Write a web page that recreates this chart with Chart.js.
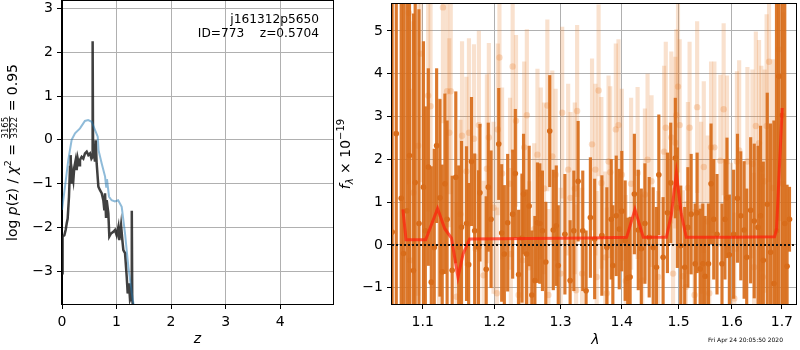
<!DOCTYPE html>
<html>
<head>
<meta charset="utf-8">
<script src="https://cdn.jsdelivr.net/npm/chart.js@4.4.0/dist/chart.umd.min.js"></script>
<style>
  html, body { margin: 0; padding: 0; background: #fff; }
  #wrap { position: relative; width: 800px; height: 350px; }
  canvas { position: absolute; top: 0; }
</style>
</head>
<body>
<div id="wrap">
  <canvas id="pzChart" width="340" height="350" style="left:0"></canvas>
  <canvas id="specChart" width="470" height="350" style="left:330px"></canvas>
</div>
<script>
// ---- left panel: p(z) ----
const pzZ = [0.000, 0.004, 0.018, 0.043, 0.067, 0.086, 0.104, 0.128, 0.147, 0.159, 0.171, 0.190, 0.208, 0.226, 0.251,
  0.269, 0.288, 0.312, 0.330, 0.361, 0.391, 0.422, 0.453, 0.483, 0.514, 0.540, 0.555, 0.562, 0.570, 0.590, 0.605,
  0.618, 0.636, 0.667, 0.697, 0.728, 0.758, 0.777, 0.789, 0.807, 0.820, 0.850, 0.868, 0.899, 0.942, 0.972, 1.003,
  1.034, 1.052, 1.083, 1.107, 1.125, 1.156, 1.187, 1.205, 1.229, 1.248, 1.270, 1.280, 1.288, 1.320];
const pzLog = [-3.05, -2.45, -2.21, -2.18, -2.06, -1.91, -1.80, -1.30, -0.62, -0.35, -1.00, -0.77, -0.92, -0.62, -0.46,
  -0.69, -0.43, -0.58, -0.46, -0.39, -0.43, -0.31, -0.27, -0.35, -0.31, -0.43, -0.40, 2.25, -0.38, -0.35, -0.50,
  -0.01, -0.54, -1.07, -1.15, -1.22, -1.38, -1.61, -1.22, -1.76, -1.38, -1.68, -2.21, -2.14, -2.10, -2.06, -2.18,
  -1.99, -2.29, -1.95, -2.29, -2.52, -2.59, -3.13, -3.51, -3.28, -3.66, -3.60, -1.62, -3.66, -3.95];
const chiZ = [0.000, 0.055, 0.116, 0.177, 0.239, 0.330, 0.420, 0.480, 0.545, 0.606, 0.655, 0.670, 0.728, 0.790,
  0.810, 0.825, 0.862, 0.910, 0.970, 1.030, 1.095, 1.156, 1.217, 1.280, 1.330];
const chiLog = [-1.60, -1.07, -0.46, 0.00, 0.15, 0.26, 0.43, 0.45, 0.41, 0.22, 0.07, -0.24, -0.54, -0.84,
  -1.07, -0.90, -1.30, -1.38, -1.41, -1.38, -1.53, -2.14, -2.90, -3.50, -3.90];
const zTicks = [0, 1, 2, 3, 4];
const pzTicks = [-3, -2, -1, 0, 1, 2, 3];

// ---- right panel: spectrum ----
const darkLam = [1.0600, 1.0653, 1.0717, 1.0747, 1.0790, 1.0825, 1.0877, 1.0900, 1.0950, 1.1010, 1.1035, 1.1075,
  1.1115, 1.1155, 1.1187, 1.1232, 1.1263, 1.1300, 1.1330, 1.1400, 1.1450, 1.1490, 1.1530, 1.1600, 1.1630, 1.1670,
  1.1715, 1.1770, 1.1790, 1.1880, 1.1910, 1.1950, 1.2062, 1.2105, 1.2144, 1.2193, 1.2267, 1.2307, 1.2356, 1.2406,
  1.2430, 1.2475, 1.2515, 1.2556, 1.2602, 1.2641, 1.2678, 1.2718, 1.2770, 1.2831, 1.2886, 1.2933, 1.2964, 1.3069,
  1.3152, 1.3211, 1.3280, 1.3355, 1.3409, 1.3479, 1.3549, 1.3668, 1.3751, 1.3824, 1.3851, 1.3908, 1.3959, 1.4002,
  1.4059, 1.4103, 1.4144, 1.4217, 1.4285, 1.4337, 1.4400, 1.4475, 1.4545, 1.4603, 1.4645, 1.4721, 1.4798, 1.4858,
  1.4941, 1.4977, 1.5039, 1.5112, 1.5170, 1.5230, 1.5304, 1.5341, 1.5397, 1.5447, 1.5490, 1.5553, 1.5602, 1.5653,
  1.5715, 1.5810, 1.5867, 1.5906, 1.5952, 1.6035, 1.6110, 1.6175, 1.6240, 1.6291, 1.6369, 1.6440, 1.6516, 1.6567,
  1.6622, 1.6702, 1.6769, 1.6837, 1.6890, 1.6939, 1.7007, 1.7060, 1.7108, 1.7158];
const darkFlux = [0.3, 2.6, 1.09, -0.2, 0.8, 2.09, -0.6, 1.46, 0.5, 1.35, 0.33, 1.82,
  -0.87, -0.06, 2.32, 1.10, -0.63, 1.43, 0.60, -0.59, 1.58, -0.05, 0.42, 0.50, -0.46, 1.95,
  0.33, -0.06, 1.22, -0.57, 1.35, 0.60, 2.36, 0.28, -0.21, 0.52, 0.72, 1.67, -0.69, 0.16,
  1.19, -0.21, 0.91, -1.17, -0.83, 0.52, 0.50, 0.33, -0.40, 2.66, 0.35, 0.45, -0.48, 0.25,
  -0.83, 0.33, 1.49, 0.33, -1.07, 0.64, 0.14, 0.22, -0.06, 0.60, -0.48, 0.68, 0.37, 0.79,
  0.10, -0.77, -0.75, 1.19, 0.35, -0.09, 0.50, 0.18, -0.06, -0.52, 1.64, -0.29, 0.75, 1.45,
  2.03, 0.87, -0.02, -0.52, 0.41, 0.72, -0.44, 0.75, -0.56, -0.44, -0.73, -0.44, 1.43, 0.60,
  0.25, -0.44, 0.60, 1.10, -0.23, 0.25, 1.09, 0.68, 0.35, -0.29, 0.81, 0.56, 0.41, 0.68,
  -0.36, 0.95, -0.17, -0.90, 0.33, 3.94, 3.03, 0.5, -0.5, 0.60];
const darkErr = [6, 6, 6, 6, 6, 6, 6, 6, 5, 3.4, 2.9, 2.3,
  2.7, 2.3, 1.8, 2.3, 2.5, 2.1, 2.3, 2.2, 2.0, 1.9, 2.0, 1.8, 1.9, 1.5,
  1.8, 1.8, 1.6, 1.7, 1.5, 1.6, 1.3, 1.6, 1.6, 1.6, 1.5, 1.5, 1.5, 1.5,
  1.4, 1.5, 1.4, 1.5, 1.5, 1.4, 1.4, 1.4, 1.4, 1.3, 1.4, 1.4, 1.4, 1.4,
  1.4, 1.4, 1.4, 1.4, 1.4, 1.4, 1.4, 1.4, 1.4, 1.4, 1.4, 1.4, 1.4, 1.4,
  1.4, 1.4, 1.4, 1.4, 1.4, 1.4, 1.4, 1.4, 1.4, 1.4, 1.4, 1.4, 1.4, 1.4,
  1.4, 1.4, 1.4, 1.4, 1.4, 1.4, 1.4, 1.4, 1.4, 1.4, 1.4, 1.4, 1.4, 1.4,
  1.4, 1.4, 1.4, 1.4, 1.4, 1.5, 1.5, 1.5, 1.6, 1.6, 1.7, 1.8, 1.9, 2.1,
  2.3, 2.6, 3.0, 3.8, 6, 6, 6, 6, 1.9, 0.75];

const lightLam = [1.0816, 1.0834, 1.0877, 1.0940, 1.0974, 1.1073, 1.1105, 1.1220, 1.1273, 1.1330, 1.1360, 1.1380,
  1.1460, 1.1515, 1.1537, 1.1598, 1.1634, 1.1705, 1.1728, 1.1775, 1.1842, 1.1890, 1.1918, 1.1986, 1.2034, 1.2048,
  1.2072, 1.2111, 1.2228, 1.2240, 1.2267, 1.2317, 1.2356, 1.2415, 1.2440, 1.2480, 1.2515, 1.2591, 1.2641, 1.2693,
  1.2743, 1.2794, 1.2810, 1.2871, 1.2923, 1.3001, 1.3026, 1.3121, 1.3158, 1.3227, 1.3248, 1.3264, 1.3344, 1.3506,
  1.3561, 1.3582, 1.3614, 1.3659, 1.3724, 1.3751, 1.3779, 1.3807, 1.3901, 1.3946, 1.4002, 1.4070, 1.4161, 1.4273,
  1.4354, 1.4400, 1.4446, 1.4516, 1.4633, 1.4739, 1.4769, 1.4868, 1.4900, 1.4941, 1.4959, 1.4989, 1.5020, 1.5079,
  1.5133, 1.5170, 1.5201, 1.5293, 1.5341, 1.5415, 1.5465, 1.5540, 1.5568, 1.5602, 1.5665, 1.5779, 1.5842, 1.5906,
  1.5983, 1.6048, 1.6099, 1.6143, 1.6305, 1.6404, 1.6437, 1.6472, 1.6536, 1.6583, 1.6613, 1.6650, 1.6689, 1.6738,
  1.6822, 1.6939, 1.7022];
const lightFlux = [5.42, -0.36, 1.22, 2.32, 4.47, 3.49, 3.24, 0.72, 5.55, 3.59, 2.62, 3.59,
  -1.21, 0.72, 2.55, 1.72, 2.62, 2.48, -0.09, 2.80, -0.71, 1.78, 2.51, 0.87, -1.13, 2.70,
  4.38, 1.67, 1.43, -0.21, 4.17, 2.90, -1.17, -0.36, 2.28, 3.03, -0.52, 0.37, 2.11, 1.67,
  1.32, 3.26, -1.17, 2.07, 1.64, -0.67, 3.09, 1.76, 1.10, 1.32, -1.06, 3.13, -0.67, 2.35,
  1.76, -0.75, 3.61, 1.45, -0.29, -1.13, 1.95, 1.70, 2.70, 2.80, 1.64, -0.84, 1.43, 1.68,
  -0.83, 1.18, 1.99, 1.49, -0.75, 2.18, 2.74, 2.51, -0.67, 2.39, 3.03, 3.70, 2.80, -0.73,
  -0.98, 1.33, 2.74, -1.17, 3.22, 0.87, 1.82, 0.55, -1.13, 2.28, 2.28, 1.97, 3.17, 1.95,
  -0.09, -1.25, 1.95, 2.21, 1.95, 1.89, -0.52, 2.78, 2.38, 1.78, -0.75, 1.49, 2.78, 4.28,
  1.33, 4.57, 1.43];
const lightErr = [4, 4, 4, 3.5, 3, 2.7, 2.7, 2.7, 2.7, 2.4, 2.2, 2.4,
  2.2, 2.2, 2.2, 2.2, 2.2, 2.2, 2.2, 2.2, 2.2, 2.2, 2.2, 2.0, 2.0, 2.0,
  2.0, 2.0, 2.0, 2.0, 2.0, 2.0, 2.0, 2.0, 2.0, 2.0, 2.0, 2.0, 2.0, 2.0,
  2.0, 2.0, 2.0, 2.0, 2.0, 2.0, 2.0, 2.0, 2.0, 2.0, 2.0, 2.0, 2.0, 2.0,
  2.0, 2.0, 2.0, 2.0, 2.0, 2.0, 2.0, 2.0, 2.0, 2.0, 2.0, 2.0, 2.0, 2.0,
  2.0, 2.0, 2.0, 2.0, 2.0, 2.0, 2.0, 2.0, 2.0, 2.0, 2.0, 2.0, 2.0, 2.0,
  2.0, 2.0, 2.0, 2.0, 2.0, 2.0, 2.0, 2.0, 2.0, 2.0, 2.0, 2.0, 2.0, 2.0,
  2.0, 2.0, 2.1, 2.1, 2.2, 2.2, 2.2, 2.2, 2.4, 2.4, 2.4, 2.6, 2.6, 2.8,
  3, 4, 4];

const modelLam = [1.0739, 1.0780, 1.1040, 1.1200, 1.1298, 1.1390, 1.1480, 1.1552, 1.1644, 1.2500, 1.3500,
  1.4085, 1.4227, 1.4371, 1.4780, 1.4870, 1.4959, 1.5050, 1.5140, 1.6000, 1.6850, 1.6890, 1.7007];
const modelFlux = [0.83, 0.12, 0.12, 0.85, 0.38, 0.16, -0.75, -0.21, 0.14, 0.15, 0.16,
  0.18, 0.83, 0.18, 0.18, 0.72, 1.68, 0.72, 0.18, 0.18, 0.19, 0.35, 3.2];

const lamTicks = [1.1, 1.2, 1.3, 1.4, 1.5, 1.6, 1.7];
const fluxTicks = [-1, 0, 1, 2, 3, 4, 5];

// ---- helpers ----
const FONT = "'DejaVu Sans'";
Chart.defaults.font.family = FONT;
Chart.defaults.font.size = 14;
Chart.defaults.color = '#000';

const minus = v => String(v).replace('-', '\u2212');
const fixedTicks = vals => scale => { scale.ticks = vals.map(v => ({ value: v })); };
const fitWidth = w => s => { s.width = w; s.paddingTop = 0; s.paddingBottom = 0; };
const fitHeight = h => s => { s.height = h; s.paddingLeft = 0; s.paddingRight = 0; };

function runsWidth(ctx, runs) {
  let w = 0;
  for (const r of runs) {
    ctx.font = r.font;
    if (r.frac) w += Math.max(ctx.measureText(r.frac[0]).width, ctx.measureText(r.frac[1]).width) + 2;
    else w += ctx.measureText(r.t).width;
  }
  return w;
}

function drawRotated(ctx, runs, cx, cy) {
  ctx.save();
  ctx.translate(cx, cy);
  ctx.rotate(-Math.PI / 2);
  ctx.fillStyle = '#000';
  ctx.textBaseline = 'alphabetic';
  let x = -runsWidth(ctx, runs) / 2;
  for (const r of runs) {
    ctx.font = r.font;
    if (r.frac) {
      const w = Math.max(ctx.measureText(r.frac[0]).width, ctx.measureText(r.frac[1]).width) + 2;
      ctx.textAlign = 'center';
      ctx.fillText(r.frac[0], x + w / 2, r.num);
      ctx.fillText(r.frac[1], x + w / 2, r.den);
      ctx.fillRect(x + 0.5, r.bar - 0.4, w - 1, 0.8);
      ctx.textAlign = 'left';
      x += w;
    } else {
      ctx.textAlign = 'left';
      ctx.fillText(r.t, x, r.dy || 0);
      x += ctx.measureText(r.t).width;
    }
  }
  ctx.restore();
}

const frame = {
  id: 'frame',
  afterDraw(chart) {
    const { ctx, chartArea: a } = chart;
    ctx.save();
    ctx.strokeStyle = '#000';
    ctx.lineWidth = 1;
    ctx.strokeRect(Math.round(a.left) - 0.5, Math.round(a.top) - 0.5,
      Math.round(a.right - a.left) + 1, Math.round(a.bottom - a.top) + 1);
    ctx.restore();
  }
};

const base = `14px ${FONT}`;
const ital = `italic 14px ${FONT}`;

const pzText = {
  id: 'pzText',
  afterDraw(chart) {
    const ctx = chart.ctx;
    drawRotated(ctx, [
      { t: 'log ', font: base },
      { t: 'p', font: ital },
      { t: '(z) / ', font: base },
      { t: '\u03c7', font: ital },
      { t: '2', font: `9.5px ${FONT}`, dy: -6 },
      { t: ' = ', font: base },
      { frac: ['3165', '3322'], font: `8.5px ${FONT}`, num: -9.5, den: -0.5, bar: -7.5 },
      { t: ' = 0.95', font: base }
    ], 17, 152.5);
    ctx.save();
    ctx.fillStyle = '#000';
    ctx.font = `italic 14px ${FONT}`;
    ctx.textAlign = 'center';
    ctx.textBaseline = 'middle';
    ctx.fillText('z', 197.5, 339);
    ctx.font = `12.2px ${FONT}`;
    ctx.textAlign = 'right';
    ctx.fillText('j161312p5650', 319, 20);
    ctx.fillText('ID=773    z=0.5704', 319, 34);
    ctx.restore();
  }
};

const specText = {
  id: 'specText',
  afterDraw(chart) {
    const ctx = chart.ctx;
    drawRotated(ctx, [
      { t: 'f', font: ital },
      { t: '\u03bb', font: `italic 10px ${FONT}`, dy: 3 },
      { t: ' \u00d7 10', font: base },
      { t: '\u221219', font: `10px ${FONT}`, dy: -6 }
    ], 19.5, 154);
    ctx.save();
    ctx.fillStyle = '#000';
    ctx.font = `italic 14px ${FONT}`;
    ctx.textAlign = 'center';
    ctx.textBaseline = 'middle';
    ctx.fillText('\u03bb', 265.5, 340);
    ctx.font = `6px ${FONT}`;
    ctx.textAlign = 'right';
    ctx.fillText('Fri Apr 24 20:05:50 2020', 453, 340);
    ctx.restore();
  }
};

const gridOpts = { color: '#b0b0b0', lineWidth: 1, tickColor: '#000', tickLength: 5 };

// ---- left chart ----
new Chart(document.getElementById('pzChart'), {
  type: 'line',
  data: {
    datasets: [
      {
        data: chiZ.map((z, i) => ({ x: z, y: chiLog[i] })),
        borderColor: 'rgba(31,119,180,0.5)',
        borderWidth: 2,
        pointRadius: 0,
        clip: 0
      },
      {
        data: pzZ.map((z, i) => ({ x: z, y: pzLog[i] })),
        borderColor: 'rgba(30,30,30,0.85)',
        borderWidth: 2.5,
        pointRadius: 0,
        clip: 0
      }
    ]
  },
  options: {
    responsive: false,
    animation: false,
    devicePixelRatio: 1,
    events: [],
    layout: { padding: { top: 1, right: 7, left: 0, bottom: 0 } },
    plugins: { legend: { display: false }, tooltip: { enabled: false } },
    scales: {
      x: {
        type: 'linear', min: 0, max: 4.97,
        afterBuildTicks: fixedTicks(zTicks),
        afterFit: fitHeight(46),
        grid: gridOpts,
        border: { color: '#000' },
        ticks: { padding: 5, maxRotation: 0, callback: v => minus(v) }
      },
      y: {
        type: 'linear', min: -3.75, max: 3.17,
        afterBuildTicks: fixedTicks(pzTicks),
        afterFit: fitWidth(62),
        grid: gridOpts,
        border: { color: '#000' },
        ticks: { padding: 4, callback: v => minus(v) }
      }
    }
  },
  plugins: [frame, pzText]
});

// ---- right chart ----
const color = '#d86c1a';

new Chart(document.getElementById('specChart'), {
  type: 'bar',
  data: {
    datasets: [
      {
        type: 'line',
        data: [{ x: 1.0598, y: 0 }, { x: 1.7294, y: 0 }],
        borderColor: '#111',
        borderWidth: 2,
        borderDash: [2, 2],
        pointRadius: 0,
        clip: 0,
        order: 0
      },
      {
        type: 'line',
        data: modelLam.map((l, i) => ({ x: l, y: modelFlux[i] })),
        borderColor: 'rgba(255,30,10,0.7)',
        borderWidth: 3,
        pointRadius: 0,
        clip: 0,
        order: 1
      },
      {
        type: 'scatter',
        data: darkLam.map((l, i) => ({ x: l, y: darkFlux[i] })),
        backgroundColor: color,
        borderWidth: 0,
        pointRadius: 2.8,
        clip: 0,
        order: 2
      },
      {
        type: 'bar',
        data: darkLam.map((l, i) => ({ x: l, y: [darkFlux[i] - darkErr[i], darkFlux[i] + darkErr[i]] })),
        backgroundColor: 'rgba(216,108,26,0.92)',
        barThickness: 2.5,
        grouped: false,
        clip: 0,
        order: 3
      },
      {
        type: 'scatter',
        data: lightLam.map((l, i) => ({ x: l, y: lightFlux[i] })),
        backgroundColor: 'rgba(232,128,50,0.28)',
        borderWidth: 0,
        pointRadius: 3.2,
        clip: 0,
        order: 4
      },
      {
        type: 'bar',
        data: lightLam.map((l, i) => ({ x: l, y: [lightFlux[i] - lightErr[i], lightFlux[i] + lightErr[i]] })),
        backgroundColor: 'rgba(232,128,50,0.24)',
        barThickness: 3.5,
        grouped: false,
        clip: 0,
        order: 5
      }
    ]
  },
  options: {
    responsive: false,
    animation: false,
    devicePixelRatio: 1,
    events: [],
    layout: { padding: { top: 1, right: 1, left: 0, bottom: 0 } },
    plugins: { legend: { display: false }, tooltip: { enabled: false } },
    scales: {
      x: {
        type: 'logarithmic', min: 1.0598, max: 1.7294,
        offset: false,
        z: 1,
        afterBuildTicks: fixedTicks(lamTicks),
        afterFit: fitHeight(46),
        grid: { ...gridOpts, offset: false },
        border: { color: '#000' },
        ticks: { padding: 5, maxRotation: 0, autoSkip: false, callback: v => Number(v).toFixed(1) }
      },
      y: {
        type: 'linear', min: -1.38, max: 5.63,
        z: 1,
        afterBuildTicks: fixedTicks(fluxTicks),
        afterFit: fitWidth(62),
        grid: gridOpts,
        border: { color: '#000' },
        ticks: { padding: 4, callback: v => minus(v) }
      }
    }
  },
  plugins: [frame, specText]
});
</script>
</body>
</html>
